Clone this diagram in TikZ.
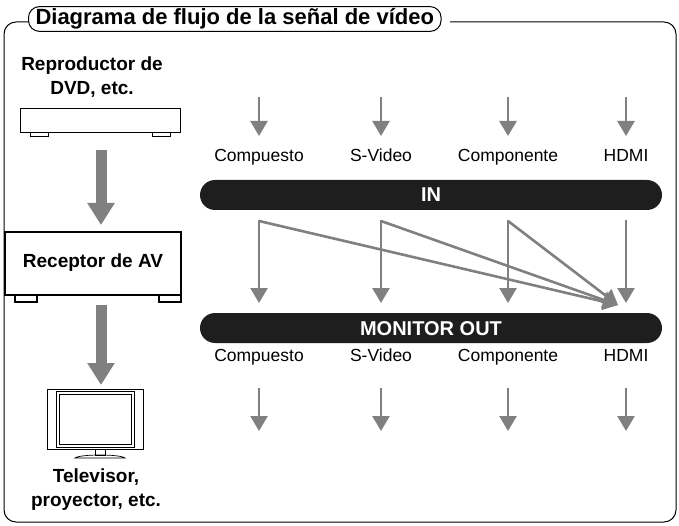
\documentclass[tikz,border=0pt]{standalone}
\usepackage{fontspec}
\setmainfont{Liberation Sans}
\usetikzlibrary{arrows.meta,positioning}
\definecolor{arrowgray}{RGB}{128,128,128}
\definecolor{bardark}{RGB}{30,30,30}
\begin{document}
\begin{tikzpicture}[x=1pt,y=-1pt,
  flow/.style={arrowgray, line width=2.6pt, -{Triangle[length=15pt,width=17pt]}},
  big/.style={arrowgray, line width=11pt, -{Triangle[length=22pt,width=26pt]}},
  bar/.style={fill=bardark, rounded corners=15pt},
  lab/.style={font=\fontsize{17.5}{19}\selectfont, anchor=base},
  dev/.style={font=\bfseries\fontsize{19}{24}\selectfont, align=center},
  bartxt/.style={font=\bfseries\fontsize{20}{22}\selectfont, text=white}]
\useasboundingbox (0,0) rectangle (679,526);

% frame and title
\draw[line width=1pt, rounded corners=12pt] (40,22) -- (4,22) -- (4,522) -- (676,522) -- (676,22) -- (450,22);
\node[draw, line width=1pt, rounded corners=11pt, inner xsep=7pt, inner ysep=2pt, anchor=west,
  font=\bfseries\fontsize{22}{24}\selectfont, fill=white] (title) at (28,19) {Diagrama de flujo de la señal de vídeo};

% devices on the left
\node[dev] (dvdtxt) at (92,77) {Reproductor de\\DVD, etc.};
\draw[line width=0.8pt] (20,108) rectangle (180,132);
\draw[line width=0.8pt] (30,132) rectangle (48,136) (152,132) rectangle (170,136);
\coordinate (dvd) at (101,150);
\draw[line width=1.4pt] (5,232) rectangle (181,295);
\draw[line width=1.4pt] (15,295) rectangle (37,302) (159,295) rectangle (181,302);
\node[dev] (avr) at (93,263) {Receptor de AV};
\coordinate (avrin) at (101,225);
\coordinate (avrout) at (101,305);
\coordinate (tvin) at (101,385);
\draw[big] (dvd) -- (avrin);
\draw[big] (avrout) -- (tvin);

% television
\draw[line width=0.7pt] (47,389) rectangle (143,449);
\draw[line width=0.7pt] (56,391) rectangle (134,447);
\draw[line width=0.7pt] (59,394) rectangle (131,444);
\draw[line width=0.7pt] (95,449) rectangle (105,455);
\draw[line width=0.7pt] (75,458) .. controls (80,454) and (120,454) .. (125,458) -- cycle;
\node[dev] (tv) at (96,490) {Televisor,\\proyector, etc.};

% bars
\fill[bar] (200,180) rectangle (662,210);
\node[bartxt] (in) at (431,195) {IN};
\fill[bar] (200,313) rectangle (662,343);
\node[bartxt] (out) at (431,329) {MONITOR OUT};

% columns
\foreach \x/\t [count=\i] in {259/Compuesto,381/S-Video,508/Componente,626/HDMI} {
  \node[lab] (inl\i) at (\x,162) {\t};
  \node[lab] (outl\i) at (\x,361) {\t};
  \coordinate (a\i) at (\x,97);
  \coordinate (b\i) at (\x,220);
  \coordinate (c\i) at (\x,303);
  \coordinate (d\i) at (\x,388);
  \coordinate (e\i) at (\x,431);
  \draw[flow] (a\i) -- (\x,136);
  \draw[flow] (b\i) -- (c\i);
  \draw[flow] (d\i) -- (e\i);
}

% cross connections to HDMI
\coordinate (hdmi) at (618,305);
\foreach \x in {259,381,508}
  \draw[flow] (\x,221) -- (hdmi);

\end{tikzpicture}
\end{document}
